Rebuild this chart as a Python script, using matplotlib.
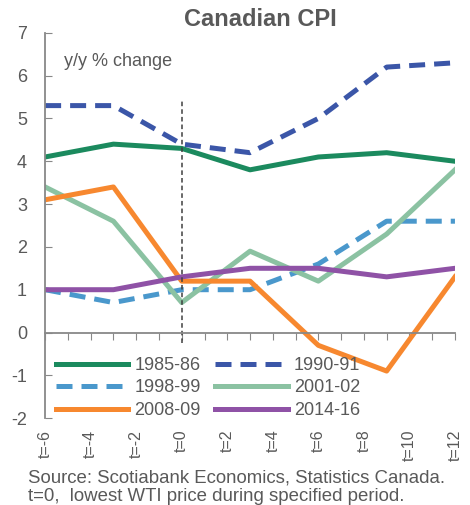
import matplotlib.pyplot as plt
from matplotlib.transforms import blended_transform_factory

plt.rcParams['font.family'] = ['Liberation Sans', 'DejaVu Sans']
plt.rcParams['axes.unicode_minus'] = False

# data
t = [-6, -3, 0, 3, 6, 9, 12]
cpi_1985 = [4.1, 4.4, 4.3, 3.8, 4.1, 4.2, 4.0]
cpi_1990 = [5.3, 5.3, 4.4, 4.2, 5.0, 6.2, 6.3]
cpi_1998 = [1.0, 0.7, 1.0, 1.0, 1.6, 2.6, 2.6]
cpi_2001 = [3.4, 2.6, 0.7, 1.9, 1.2, 2.3, 3.8]
cpi_2008 = [3.1, 3.4, 1.2, 1.2, -0.3, -0.9, 1.3]
cpi_2014 = [1.0, 1.0, 1.3, 1.5, 1.5, 1.3, 1.5]
tick_pos = list(range(-6, 13, 2))
tick_labels = ['t=%d' % v for v in tick_pos]

gray = '#595959'
fig = plt.figure(figsize=(4.7, 5.05), dpi=100)
ax = fig.add_axes([0.096, 0.172, 0.872, 0.763])

lw = 3.6
l1, = ax.plot(t, cpi_1985, color='#1b8a5e', lw=lw, label='1985-86')
l2, = ax.plot(t, cpi_1990, color='#3b56a8', lw=lw, ls=(0, (3.2, 1.8)), label='1990-91')
l3, = ax.plot(t, cpi_1998, color='#4a98cc', lw=lw, ls=(0, (3.2, 1.8)), label='1998-99')
l4, = ax.plot(t, cpi_2001, color='#8bc2a2', lw=lw, label='2001-02')
l5, = ax.plot(t, cpi_2008, color='#f7882f', lw=lw, label='2008-09')
l6, = ax.plot(t, cpi_2014, color='#8f52a6', lw=lw, label='2014-16')

ax.vlines(0, -0.25, 5.4, colors='#404040', linestyles=(0, (3, 2)), lw=1.1)

ax.set_xlim(-6, 12)
ax.set_ylim(-2, 7)
ax.set_yticks(range(-2, 8))
ax.tick_params(axis='y', direction='in', length=5, color='#888888',
               labelsize=13, labelcolor=gray, pad=13)
ax.set_xticks(range(-6, 13))
ax.set_xticklabels([])
ax.tick_params(axis='x', direction='out', length=5, color='#888888')

for s in ['top', 'right']:
    ax.spines[s].set_visible(False)
ax.spines['bottom'].set_position(('data', 0))
ax.spines['left'].set_color('#888888')
ax.spines['bottom'].set_color('#888888')
ax.spines['left'].set_linewidth(1.3)
ax.spines['bottom'].set_linewidth(1.3)

trans = blended_transform_factory(ax.transData, ax.transAxes)
for p, lab in zip(tick_pos, tick_labels):
    ax.text(p, -0.03, lab, transform=trans, rotation=90, ha='center', va='top',
            fontsize=11.5, color=gray)

ax.text(0.045, 0.925, 'y/y % change', transform=ax.transAxes, fontsize=13,
        color=gray, va='center')

# row-major order like the original legend
handles = [l1, l3, l5, l2, l4, l6]
leg = ax.legend(handles=handles, ncol=2, loc='lower left', bbox_to_anchor=(0.0, -0.03),
                frameon=False, fontsize=13, handlelength=4.0, handletextpad=0.35,
                columnspacing=0.8, labelspacing=0.3, borderaxespad=0.2)
for txt in leg.get_texts():
    txt.set_color(gray)

fig.text(0.553, 0.962, 'Canadian CPI', ha='center', va='center', fontsize=17,
         fontweight='bold', color=gray)
fig.text(0.06, 0.054, 'Source: Scotiabank Economics, Statistics Canada.', fontsize=13.4,
         color=gray, va='center')
fig.text(0.06, 0.016, 't=0,  lowest WTI price during specified period.', fontsize=13.4,
         color=gray, va='center')

fig.savefig('out.png', dpi=100)
